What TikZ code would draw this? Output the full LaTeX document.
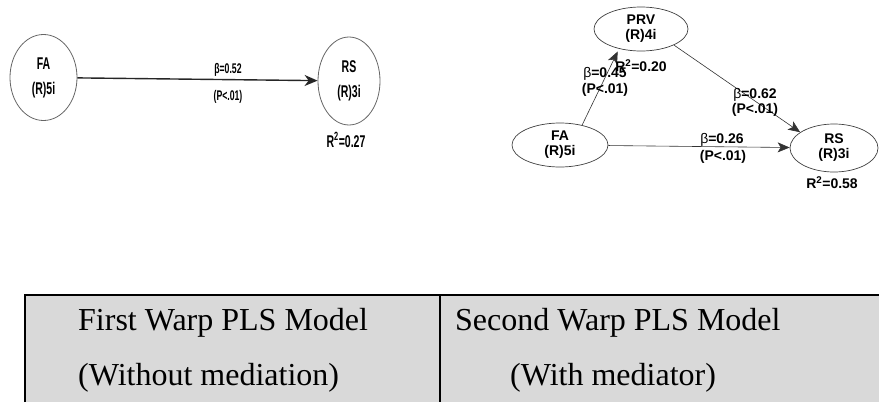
\documentclass[tikz,border=0pt]{standalone}
\usepackage{fontspec}
\setmainfont{Liberation Serif}
\newfontfamily\modelsans{Liberation Sans}
\newfontfamily\narrowsans[FakeStretch=0.62]{Liberation Sans}
\usetikzlibrary{shapes.geometric,arrows.meta}

\definecolor{cellgray}{HTML}{D9D9D9}

\tikzset{
  % first model: condensed lettering, tall circles
  oldvar/.style={ellipse, draw=black!60, line width=0.8pt, inner sep=0pt, align=center,
    font=\narrowsans\bfseries\fontsize{17}{25}\selectfont},
  oldlab/.style={inner sep=0pt, font=\narrowsans\bfseries\fontsize{14}{16}\selectfont},
  oldpath/.style={line width=1.4pt, draw=black!85,
    -{Stealth[length=13pt,width=11pt,inset=4pt]}},
  % second model: bold sans lettering, flat ellipses
  newvar/.style={ellipse, draw=black!75, line width=0.7pt, inner sep=0pt, align=center,
    font=\modelsans\bfseries\fontsize{14}{15}\selectfont},
  newlab/.style={inner sep=0pt, font=\modelsans\bfseries\fontsize{14}{15}\selectfont},
  newpath/.style={line width=0.6pt, draw=black!80,
    -{Stealth[length=12pt,width=10pt,inset=3pt]}},
  % caption table
  cell/.style={anchor=base west, inner sep=0pt, font=\fontsize{32}{36}\selectfont},
}
\newcommand{\bet}{\textmd{β}}

\begin{document}
\begin{tikzpicture}[x=1pt,y=-1pt]
\useasboundingbox (0,0) rectangle (879,402);

% ---- first model (without mediation)
\node[oldvar, minimum width=67pt, minimum height=86pt] (fa1) at (43.5,77.5) {FA\\(R)5i};
\node[oldvar, minimum width=62pt, minimum height=88pt] (rs1) at (349,81) {RS\\(R)3i};
\draw[oldpath] (fa1) -- (rs1);
\node[oldlab] (b1) at (228,70) {β=0.52};
\node[oldlab] (p1) at (228,97) {(P<.01)};
\node[oldlab, font=\narrowsans\bfseries\fontsize{17}{20}\selectfont] (r1) at (346,140) {R\textsuperscript{2}=0.27};

% ---- second model (with mediator)
\node[newvar, minimum width=94pt, minimum height=44pt] (prv) at (641,29) {PRV\\(R)4i};
\node[newvar, minimum width=96pt, minimum height=44pt] (fa2) at (560,145) {FA\\(R)5i};
\node[newvar, minimum width=88pt, minimum height=48pt] (rs2) at (834,148) {RS\\(R)3i};

\draw[newpath, shorten >=3pt] (fa2.42) -- (prv.222);
\draw[newpath] (prv.-26) -- (rs2.155);
\draw[newpath] (fa2) -- (rs2);

\node[newlab] (r2) at (641,66) {R\textsuperscript{2}=0.20};
\node[newlab] (b2) at (605,74) {\bet=0.45};
\node[newlab] (p2) at (605,90) {(P<.01)};
\node[newlab] (b3) at (755,95) {\bet=0.62};
\node[newlab] (p3) at (755,110) {(P<.01)};
\node[newlab] (b4) at (722,140) {\bet=0.26};
\node[newlab] (p4) at (723,157) {(P<.01)};
\node[newlab] (r3) at (832,183) {R\textsuperscript{2}=0.58};

% ---- caption table
\fill[cellgray] (25,295) rectangle (879,402);
\draw[line width=2pt] (25,402) -- (25,295) -- (879,295);
\draw[line width=2pt] (440,295) -- (440,402);
\node[cell] (t1) at (78,330) {First Warp PLS Model};
\node[cell] (t2) at (78,385) {(Without mediation)};
\node[cell] (t3) at (455,330) {Second Warp PLS Model};
\node[cell] (t4) at (510,385) {(With mediator)};
\end{tikzpicture}
\end{document}
